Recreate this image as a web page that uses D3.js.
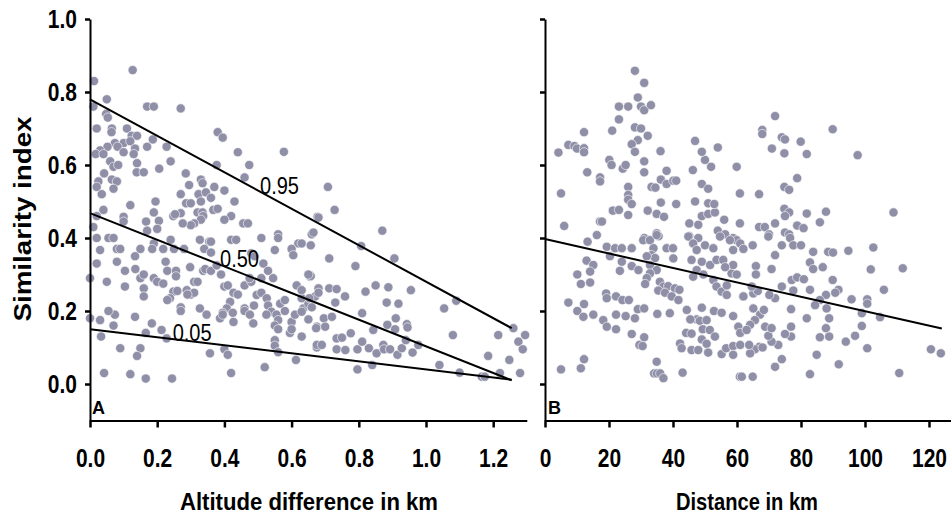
<!DOCTYPE html>
<html>
<head>
<meta charset="utf-8">
<script src="https://cdn.jsdelivr.net/npm/d3@7"></script>
<style>
  body { margin: 0; background: #fff; }
  text { font-family: "Liberation Sans", Arial, sans-serif; }
</style>
</head>
<body>
<svg id="svg" width="951" height="520"></svg>
<script>
// panel A: altitude difference (km) vs similarity
const altitudePoints = [
  [0.012,0.83],[0.127,0.86],[0.01,0.76],[0.05,0.78],[0.17,0.76],[0.19,0.76],[0.27,0.755],[0.02,0.70],[0.048,0.74],[0.053,0.73],
  [0.065,0.70],[0.064,0.69],[0.11,0.70],[0.124,0.68],[0.14,0.68],[0.10,0.66],[0.074,0.66],[0.052,0.65],[0.03,0.64],[0.017,0.63],
  [0.04,0.63],[0.082,0.65],[0.10,0.635],[0.12,0.665],[0.134,0.645],[0.13,0.63],[0.14,0.605],[0.139,0.58],[0.16,0.58],[0.17,0.65],
  [0.187,0.67],[0.06,0.61],[0.07,0.595],[0.084,0.60],[0.042,0.577],[0.065,0.56],[0.08,0.555],[0.07,0.535],[0.025,0.555],[0.02,0.54],
  [0.035,0.52],[0.206,0.59],[0.24,0.61],[0.228,0.65],[0.38,0.69],[0.395,0.675],[0.44,0.635],[0.474,0.60],[0.377,0.60],[0.577,0.636],
  [0.46,0.566],[0.285,0.577],[0.27,0.52],[0.295,0.545],[0.33,0.56],[0.335,0.55],[0.323,0.52],[0.345,0.525],[0.37,0.54],[0.40,0.53],
  [0.36,0.51],[0.33,0.50],[0.286,0.495],[0.30,0.495],[0.32,0.47],[0.335,0.47],[0.367,0.477],[0.38,0.48],[0.337,0.46],[0.33,0.45],
  [0.31,0.44],[0.30,0.435],[0.276,0.44],[0.27,0.468],[0.248,0.46],[0.253,0.465],[0.195,0.50],[0.19,0.47],[0.167,0.445],[0.205,0.447],
  [0.20,0.425],[0.17,0.42],[0.12,0.49],[0.04,0.477],[0.02,0.46],[0.10,0.458],[0.10,0.445],[0.01,0.43],[0.43,0.50],[0.42,0.46],
  [0.40,0.45],[0.456,0.44],[0.47,0.44],[0.42,0.395],[0.435,0.395],[0.51,0.40],[0.56,0.41],[0.56,0.40],[0.62,0.385],[0.66,0.41],
  [0.677,0.458],[0.60,0.37],[0.48,0.358],[0.55,0.367],[0.02,0.40],[0.055,0.40],[0.07,0.40],[0.03,0.367],[0.08,0.37],[0.09,0.37],
  [0.134,0.35],[0.15,0.37],[0.19,0.385],[0.185,0.37],[0.218,0.37],[0.24,0.395],[0.25,0.37],[0.28,0.37],[0.327,0.395],[0.355,0.39],
  [0.36,0.39],[0.34,0.37],[0.36,0.36],
  [0.00,0.29],[0.02,0.33],[0.05,0.28],[0.08,0.335],[0.104,0.31],[0.104,0.267],[0.135,0.315],[0.15,0.29],[0.16,0.30],[0.19,0.29],
  [0.16,0.262],[0.16,0.24],[0.20,0.28],[0.218,0.275],[0.225,0.335],[0.23,0.31],[0.256,0.31],[0.256,0.295],[0.248,0.253],[0.238,0.235],
  [0.23,0.23],[0.26,0.255],[0.288,0.257],[0.30,0.245],[0.27,0.21],[0.27,0.20],[0.298,0.32],[0.31,0.28],[0.32,0.28],[0.337,0.31],
  [0.343,0.315],[0.36,0.31],[0.377,0.325],[0.39,0.30],[0.40,0.267],[0.41,0.27],[0.427,0.25],[0.417,0.225],[0.407,0.207],[0.395,0.195],
  [0.387,0.18],[0.427,0.17],[0.425,0.195],[0.44,0.245],[0.46,0.207],[0.46,0.20],[0.476,0.19],[0.486,0.166],[0.488,0.215],[0.46,0.27],
  [0.48,0.28],[0.475,0.29],[0.496,0.244],[0.51,0.25],[0.526,0.235],[0.53,0.215],[0.54,0.198],[0.525,0.19],[0.555,0.19],[0.56,0.175],
  [0.566,0.22],[0.58,0.23],[0.58,0.20],[0.55,0.16],[0.56,0.15],[0.55,0.12],[0.55,0.105],[0.56,0.087],[0.52,0.046],[0.42,0.03],
  [0.40,0.095],[0.41,0.08],[0.357,0.084],[0.347,0.19],[0.327,0.207],[0.395,0.19],[0.31,0.25],[0.29,0.245],[0.184,0.166],[0.213,0.148],
  [0.228,0.125],[0.134,0.184],[0.074,0.19],[0.055,0.20],[0.03,0.175],[0.00,0.18],[0.07,0.16],[0.033,0.13],[0.09,0.098],[0.15,0.098],
  [0.14,0.077],[0.166,0.14],[0.042,0.03],[0.12,0.027],[0.166,0.015],[0.244,0.015],[0.613,0.066],[0.595,0.14],[0.60,0.17],[0.60,0.15],
  [0.61,0.19],[0.635,0.207],[0.65,0.22],[0.63,0.235],[0.615,0.27],[0.605,0.353],[0.655,0.294],[0.67,0.24],[0.675,0.157],[0.675,0.10],
  [0.66,0.21],[0.516,0.33],[0.53,0.31],[0.545,0.29],[0.51,0.29],[0.49,0.35],
  [0.708,0.54],[0.728,0.477],[0.68,0.456],[0.665,0.415],[0.63,0.385],[0.657,0.38],[0.712,0.344],[0.807,0.378],[0.87,0.42],[0.906,0.344],
  [0.79,0.323],[0.657,0.296],[0.65,0.30],[0.63,0.257],[0.653,0.235],[0.68,0.262],[0.68,0.25],[0.712,0.262],[0.734,0.26],[0.759,0.24],
  [0.73,0.223],[0.63,0.198],[0.65,0.177],[0.673,0.153],[0.696,0.18],[0.72,0.184],[0.70,0.157],[0.63,0.13],[0.675,0.107],[0.69,0.107],
  [0.734,0.125],[0.75,0.127],[0.776,0.139],[0.734,0.095],[0.76,0.093],[0.796,0.095],[0.796,0.04],[0.81,0.116],[0.81,0.194],[0.82,0.253],
  [0.85,0.27],[0.843,0.148],[0.83,0.098],[0.853,0.084],[0.84,0.052],[0.873,0.107],[0.875,0.095],[0.893,0.095],[0.885,0.162],[0.883,0.223],
  [0.888,0.265],[0.918,0.22],[0.91,0.18],[0.908,0.15],[0.915,0.08],[0.928,0.098],[0.943,0.164],[0.945,0.155],[0.94,0.12],[0.96,0.086],
  [0.977,0.107],[0.955,0.257],[1.04,0.052],[1.054,0.207],[1.09,0.228],[1.08,0.134],[1.10,0.031],[1.166,0.02],[1.175,0.02],[1.185,0.077],
  [1.215,0.134],[1.22,0.03],[1.248,0.066],[1.26,0.153],[1.275,0.116],[1.288,0.095],[1.295,0.134],[1.28,0.03]
];

// panel B: geographic distance (km) vs similarity
const distancePoints = [
  [28.1,0.858],[31.0,0.825],[29.0,0.785],[23.1,0.76],[26.0,0.76],[30.0,0.76],[31,0.75],[33.1,0.764],[23.1,0.725],[21.0,0.694],
  [28.1,0.703],[30,0.70],[32.1,0.68],[29,0.668],[27.1,0.657],[28.1,0.636],[12.2,0.69],[7.3,0.655],[9.2,0.652],[10,0.645],
  [12.2,0.646],[12.2,0.635],[4.2,0.634],[36.1,0.638],[20.1,0.614],[20.8,0.60],[24.3,0.59],[25.2,0.60],[31,0.61],[31,0.58],
  [13.2,0.58],[17.2,0.566],[17.2,0.555],[38,0.584],[36.2,0.56],[33.3,0.54],[34.5,0.538],[38,0.548],[40.1,0.557],[41,0.557],
  [26,0.54],[26,0.518],[26,0.505],[27.1,0.493],[5.0,0.522],[6.0,0.433],[21.2,0.475],[23.1,0.477],[26,0.463],[32.1,0.475],
  [36.2,0.497],[34.9,0.466],[37.2,0.458],[41,0.493],[17.2,0.445],[17.8,0.445],[16.2,0.408],[13.3,0.39],[31,0.40],[34.9,0.413],
  [35.5,0.405],[45.1,0.44],[45.1,0.405],[47.9,0.436],[47.9,0.40],[49,0.46],[51,0.466],[53.1,0.47],[56,0.45],[54,0.42],
  [56.3,0.41],[58.8,0.40],[60.9,0.44],[46.9,0.50],[51,0.495],[52.9,0.493],[49,0.548],[51,0.535],[46.2,0.586],[51.9,0.595],
  [50,0.614],[49,0.636],[46.9,0.666],[54,0.648],[59.9,0.595],[60.9,0.522],
  [71.9,0.734],[67.9,0.696],[67.9,0.685],[74,0.676],[75,0.67],[79.9,0.664],[89.9,0.698],[97.7,0.627],[70.9,0.645],[74.8,0.632],
  [81.8,0.63],[78.8,0.564],[74.8,0.54],[76.3,0.532],[66.9,0.52],[74.8,0.48],[76.3,0.47],[75,0.46],[81.8,0.467],[87.8,0.472],
  [108.9,0.47],[85.9,0.443],[66.9,0.43],[68.7,0.43],[71.9,0.44],[78.8,0.434],[80.8,0.427],[75,0.415],[70,0.41],[76.3,0.41],
  [13,0.338],[15.1,0.326],[14.1,0.308],[10.1,0.30],[11.2,0.274],[14.1,0.278],[7.3,0.223],[10.1,0.20],[12.2,0.219],[12,0.184],
  [15.1,0.19],[18.2,0.175],[19.3,0.157],[22.2,0.15],[19.1,0.248],[19.3,0.235],[22.2,0.24],[24.2,0.23],[26.2,0.23],[22.2,0.19],
  [25.2,0.186],[28.1,0.18],[29,0.205],[31,0.207],[27.1,0.137],[29.5,0.107],[31,0.128],[35.1,0.192],[39,0.194],[44.3,0.203],
  [49,0.209],[52.8,0.20],[55.2,0.195],[58.8,0.186],[47.4,0.177],[48.4,0.173],[50.5,0.175],[45.4,0.177],[60.4,0.157],[61,0.14],
  [44.1,0.14],[45.8,0.138],[49.3,0.15],[51.5,0.148],[53.1,0.13],[49,0.122],[50.5,0.11],[42.2,0.111],[42.7,0.098],[45.8,0.093],
  [47.9,0.093],[51,0.086],[55.2,0.082],[56.6,0.098],[58.8,0.104],[58.8,0.08],[61,0.107],[34.9,0.061],[34.1,0.029],[35,0.029],
  [36,0.029],[37,0.016],[43,0.031],[60.9,0.02],[5,0.04],[11.2,0.043],[12.2,0.068],[30.5,0.104],
  [19.3,0.376],[20.3,0.35],[21.9,0.372],[24,0.372],[24,0.335],[23.4,0.31],[27.1,0.372],[27.1,0.323],[29.2,0.312],[30.7,0.394],
  [32.8,0.394],[34.9,0.408],[33.9,0.372],[33.3,0.353],[34.4,0.345],[31.8,0.35],[32.8,0.326],[34.9,0.312],[32.8,0.303],[31.8,0.29],
  [31.3,0.274],[35.9,0.28],[37,0.267],[38.5,0.268],[35.4,0.256],[37.5,0.25],[40.6,0.262],[42,0.258],[39.6,0.24],[41.7,0.23],
  [38,0.372],[40,0.372],[40.1,0.344],[44.8,0.404],[46.3,0.385],[47.4,0.367],[50,0.38],[52.6,0.372],[45.8,0.34],[49,0.335],
  [51.6,0.326],[53.6,0.34],[55.7,0.34],[47.4,0.312],[46.3,0.294],[49.5,0.30],[52.6,0.285],[53.6,0.267],[55.2,0.253],[56.8,0.27],
  [56.8,0.244],[58.3,0.303],[59.9,0.30],[58.8,0.326],[59.9,0.394],[61,0.385],[57.8,0.394],[58.8,0.367],[54.7,0.404],[62,0.24],
  [56.3,0.32],
  [62,0.37],[64.9,0.38],[69.8,0.404],[74,0.38],[76.6,0.40],[77.6,0.38],[80,0.38],[71.9,0.353],[83.8,0.362],[88.5,0.362],
  [90,0.36],[94.8,0.365],[102.6,0.374],[82.8,0.333],[83.8,0.315],[86.8,0.32],[70.8,0.315],[65.9,0.323],[65.9,0.30],[101.8,0.314],
  [111.8,0.317],[77.1,0.285],[78.8,0.292],[80.9,0.287],[74,0.267],[77.6,0.256],[82.8,0.258],[89.9,0.285],[91.7,0.258],[90.7,0.25],
  [87.8,0.244],[85.9,0.23],[84.4,0.216],[88,0.207],[95.8,0.232],[100.7,0.232],[100.7,0.22],[105.9,0.258],[99,0.194],[104.7,0.183],
  [81.8,0.18],[88.8,0.18],[87.8,0.153],[85.9,0.128],[88.8,0.13],[99,0.159],[96.9,0.132],[94,0.116],[100.7,0.098],[84.9,0.08],
  [91.8,0.054],[82.8,0.027],[110.7,0.03],[120.6,0.095],[123.7,0.084],[76.9,0.205],[76.9,0.157],[76.9,0.13],[75,0.137],[74,0.068],
  [71.9,0.047],[64.9,0.02],[61.5,0.02],[72.9,0.107],[70.8,0.116],[69.8,0.132],[68.8,0.157],[70.8,0.153],[67,0.102],[65.6,0.095],
  [64.1,0.084],[68,0.10],[63.8,0.107],[65.1,0.207],[67.2,0.19],[68.4,0.203],[65.6,0.175],[64.1,0.162],[63,0.148],[62,0.24],
  [65.1,0.248],[66.5,0.255],[64.6,0.267],[71.9,0.235],[70.1,0.244]
];

// quantile regression lines, panel A
const quantileNames = ["0.95", "0.50", "0.05"];
const quantileStarts = [[0, 0.78], [0, 0.468], [0, 0.15]];
const quantileEnds = [[1.255, 0.153], [1.255, 0.01], [1.255, 0.012]];
const quantileLabelX = [0.506, 0.387, 0.246];

// regression line, panel B
const distanceLine = [[0, 0.397], [124, 0.152]];

const yTicks = [0, 0.2, 0.4, 0.6, 0.8, 1.0];
const altitudeTicks = [0, 0.2, 0.4, 0.6, 0.8, 1.0, 1.2];
const distanceTicks = [0, 20, 40, 60, 80, 100, 120];

const svg = d3.select("#svg");
const dotColor = "#8f8fa8";
const squeeze = 0.84;

const y = d3.scaleLinear().domain([-0.1, 1.0]).range([420.5, 19]);
const xA = d3.scaleLinear().domain([0, 1.3]).range([90, 526.8]);
const xB = d3.scaleLinear().domain([0, 127]).range([545, 951.4]);

function drawDots(points, x) {
  svg.append("g")
    .selectAll("circle")
    .data(points)
    .enter()
    .append("circle")
    .attr("cx", (d) => x(d[0]))
    .attr("cy", (d) => y(d[1]))
    .attr("r", 4.6)
    .attr("fill", dotColor)
    .attr("stroke", "#fff")
    .attr("stroke-width", 0.6);
}

function drawAxes(x, ticks, xFormat, showYLabels) {
  const yAxis = svg.append("g")
    .attr("transform", `translate(${x.range()[0]},0)`)
    .call(
      d3.axisLeft(y)
        .tickValues(yTicks)
        .tickSize(5)
        .tickSizeOuter(0)
        .tickFormat(showYLabels ? d3.format(".1f") : "")
    );
  yAxis.selectAll("text")
    .attr("x", -13 / squeeze)
    .attr("transform", `scale(${squeeze},1)`);

  const xAxis = svg.append("g")
    .attr("transform", "translate(0,420.5)")
    .call(
      d3.axisBottom(x)
        .tickValues(ticks)
        .tickSize(7)
        .tickSizeOuter(0)
        .tickPadding(22)
        .tickFormat(xFormat)
    );
  xAxis.selectAll("text").attr("transform", `scale(${squeeze},1)`)
    .attr("x", 0);

  [yAxis, xAxis].forEach((g) => {
    g.selectAll("path").attr("stroke", "#000").attr("stroke-width", 2);
    g.selectAll("line").attr("stroke", "#000").attr("stroke-width", 2.5);
    g.selectAll("text")
      .attr("fill", "#000")
      .style("font-size", "25px")
      .style("font-weight", "bold")
      .style("font-family", '"Liberation Sans", Arial, sans-serif');
  });
}

drawDots(altitudePoints, xA);
drawDots(distancePoints, xB);

// regression lines on top of the dots
const line = d3.line();
quantileNames.forEach((q, i) => {
  svg.append("path")
    .attr("d", line([quantileStarts[i], quantileEnds[i]].map((p) => [xA(p[0]), y(p[1])])))
    .attr("stroke", "#000")
    .attr("stroke-width", 2)
    .attr("fill", "none");

  const t = (quantileLabelX[i] - quantileStarts[i][0]) / (quantileEnds[i][0] - quantileStarts[i][0]);
  const ly = quantileStarts[i][1] + t * (quantileEnds[i][1] - quantileStarts[i][1]);
  svg.append("text")
    .attr("transform", `translate(${xA(quantileLabelX[i])},${y(ly) + 2}) scale(0.87,1)`)
    .style("font-size", "23px")
    .text(q);
});

svg.append("path")
  .attr("d", line(distanceLine.map((p) => [xB(p[0]), y(p[1])])))
  .attr("stroke", "#000")
  .attr("stroke-width", 2)
  .attr("fill", "none");

drawAxes(xA, altitudeTicks, d3.format(".1f"), true);
drawAxes(xB, distanceTicks, d3.format("d"), false);

// panel letters
svg.append("text").attr("x", 92).attr("y", 414)
  .style("font-size", "18px").style("font-weight", "bold").text("A");
svg.append("text").attr("x", 548).attr("y", 414)
  .style("font-size", "18px").style("font-weight", "bold").text("B");

// axis titles
svg.append("text")
  .attr("transform", "translate(31,219) rotate(-90)")
  .attr("text-anchor", "middle")
  .attr("textLength", 205)
  .attr("lengthAdjust", "spacingAndGlyphs")
  .style("font-size", "24px")
  .style("font-weight", "bold")
  .text("Similarity index");

svg.append("text")
  .attr("x", 309)
  .attr("y", 510)
  .attr("text-anchor", "middle")
  .attr("textLength", 258)
  .attr("lengthAdjust", "spacingAndGlyphs")
  .style("font-size", "24px")
  .style("font-weight", "bold")
  .text("Altitude difference in km");

svg.append("text")
  .attr("x", 747)
  .attr("y", 510)
  .attr("text-anchor", "middle")
  .attr("textLength", 142)
  .attr("lengthAdjust", "spacingAndGlyphs")
  .style("font-size", "24px")
  .style("font-weight", "bold")
  .text("Distance in km");
</script>
</body>
</html>
